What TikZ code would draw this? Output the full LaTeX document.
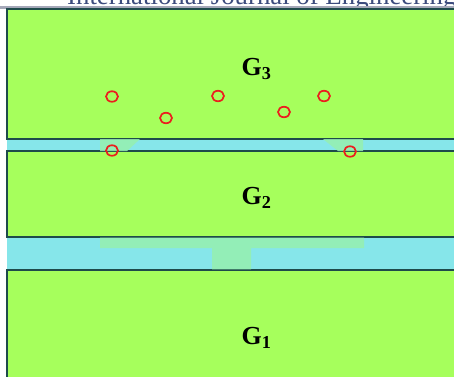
\documentclass[tikz,border=0pt]{standalone}
\usepackage{fontspec}
\setmainfont{Liberation Serif}
\definecolor{lime}{RGB}{166,255,92}
\definecolor{aqua}{RGB}{134,230,234}
\definecolor{edge}{RGB}{30,75,75}
\definecolor{pale}{RGB}{150,240,175}
\definecolor{hdr}{RGB}{60,75,125}
\definecolor{ring}{RGB}{235,30,30}
\tikzset{
  layer/.style={fill=lime,draw=edge,line width=1.2pt},
  band/.style={fill=aqua},
  patch/.style={fill=pale,opacity=0.85},
  hole/.style={draw=ring,line width=1.7pt,ellipse,minimum width=12pt,minimum height=10.5pt,inner sep=0pt},
  glabel/.style={font=\bfseries\fontsize{26}{26}\selectfont,text=black}
}
\usetikzlibrary{shapes.geometric}
\begin{document}
\begin{tikzpicture}[x=1pt,y=-1pt]
\useasboundingbox (0,0) rectangle (454,376);
\clip (0,0) rectangle (454,376);
\fill[white] (0,0) rectangle (454,376);
% header text (cut)
\node[anchor=base west,text=hdr,font=\fontsize{26.8}{27}\selectfont,inner sep=0pt] (hdrtext) at (67,4) {International Journal of Engineering};
\fill[color={rgb,255:red,165;green,168;blue,185}] (0,6) rectangle (454,8.5);
% bands
\fill[band] (7,139) rectangle (460,151);
\fill[band] (7,237) rectangle (460,270);
% layers
\draw[layer] (7,9) rectangle (460,139);
\draw[layer] (7,151) rectangle (460,237);
\draw[layer] (7,270) rectangle (460,390);
% translucent patches
\fill[patch] (100,139) -- (140,139) -- (127,151) -- (100,151) -- cycle;
\fill[patch] (323,139) -- (363,139) -- (363,151) -- (338,151) -- cycle;
\fill[patch] (100,237.6) -- (364,237.6) -- (364,248) -- (251,248) -- (251,269.4) -- (212,269.4) -- (212,248) -- (100,248) -- cycle;
% holes
\node[hole] (h1) at (112,96.5) {};
\node[hole] (h2) at (166,118) {};
\node[hole] (h3) at (218,96) {};
\node[hole] (h4) at (284,112) {};
\node[hole] (h5) at (324,96) {};
\node[hole] (h6) at (112,150.5) {};
\node[hole] (h7) at (350,151.5) {};
% labels
\node[glabel] (g3) at (256.5,69) {G\textsubscript{3}};
\node[glabel] (g2) at (256.5,198) {G\textsubscript{2}};
\node[glabel] (g1) at (256.5,338) {G\textsubscript{1}};
\end{tikzpicture}
\end{document}
